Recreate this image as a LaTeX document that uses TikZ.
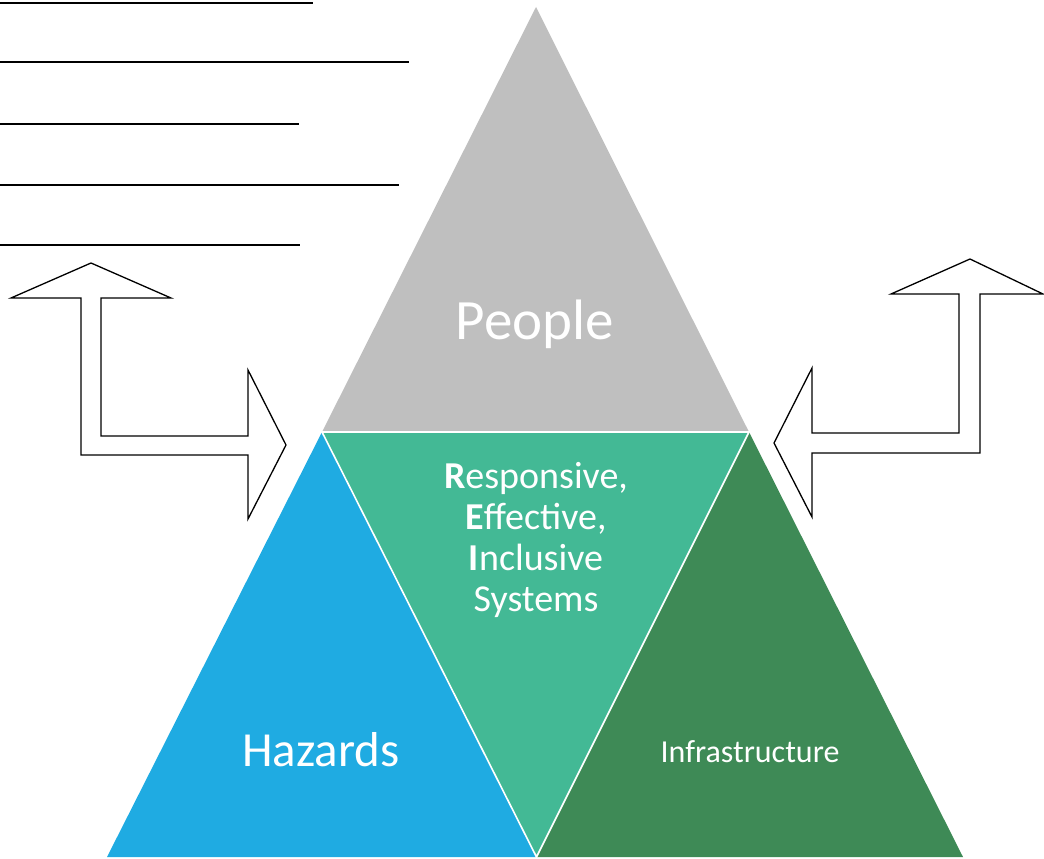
\documentclass[tikz,border=0pt]{standalone}
\usepackage{fontspec}
\setmainfont{Carlito}
\definecolor{cgray}{HTML}{BFBFBF}
\definecolor{cteal}{HTML}{43B995}
\definecolor{cblue}{HTML}{1FABE2}
\definecolor{cgreen}{HTML}{3E8A56}
\tikzset{
  tri/.style={draw=white, line width=1.6pt, line join=miter},
  rule/.style={draw=black, line width=2pt},
  bentarrow/.style={draw=black, fill=white, line width=1.3pt, line join=miter},
  lbl/.style={text=white, inner sep=0pt, align=center}
}
\begin{document}
\begin{tikzpicture}[x=1pt,y=-1pt]
\useasboundingbox (0,0) rectangle (1044,859);
% coordinates
\coordinate (apex) at (536,7);
\coordinate (bl) at (322,432);
\coordinate (br) at (749,432);
\coordinate (bot) at (536.5,857);
\coordinate (hl) at (107,857);
\coordinate (ir) at (963,857);
% triangles
\fill[cgray] (apex) -- (br) -- (bl) -- cycle;
\fill[cblue] (bl) -- (bot) -- (hl) -- cycle;
\fill[cgreen] (br) -- (ir) -- (bot) -- cycle;
\fill[cteal] (bl) -- (br) -- (bot) -- cycle;
\draw[tri] (bl) -- (br) -- (bot) -- cycle;
% rules
\draw[rule] (0,3) -- (313,3);
\draw[rule] (0,62) -- (409,62);
\draw[rule] (0,124) -- (299,124);
\draw[rule] (0,185) -- (399,185);
\draw[rule] (0,245) -- (300,245);
% left bent arrow
\draw[bentarrow] (91,263) -- (171,298) -- (101,298) -- (101,436) -- (248,436) -- (248,370)
  -- (286,445) -- (248,519) -- (248,455) -- (81,455) -- (81,298) -- (11,298) -- cycle;
% right bent arrow
\draw[bentarrow] (970,259) -- (1043,294) -- (980,294) -- (980,453) -- (812,453) -- (812,517)
  -- (774,443) -- (812,368) -- (812,433) -- (959,433) -- (959,294) -- (891,294) -- cycle;
% labels
\node[lbl, font=\fontsize{57}{60}\selectfont] (people) at (535,324) {People};
\node[lbl, font=\fontsize{49}{52}\selectfont] (haz) at (321,750) {Hazards};
\node[lbl, font=\fontsize{32}{34}\selectfont] (infra) at (750,752) {Infrastructure};
\node[lbl, font=\fontsize{38}{41}\selectfont] (reis) at (536,540)
  {\textbf{R}esponsive,\\\textbf{E}ffective,\\\textbf{I}nclusive\\Systems};
\end{tikzpicture}
\end{document}
